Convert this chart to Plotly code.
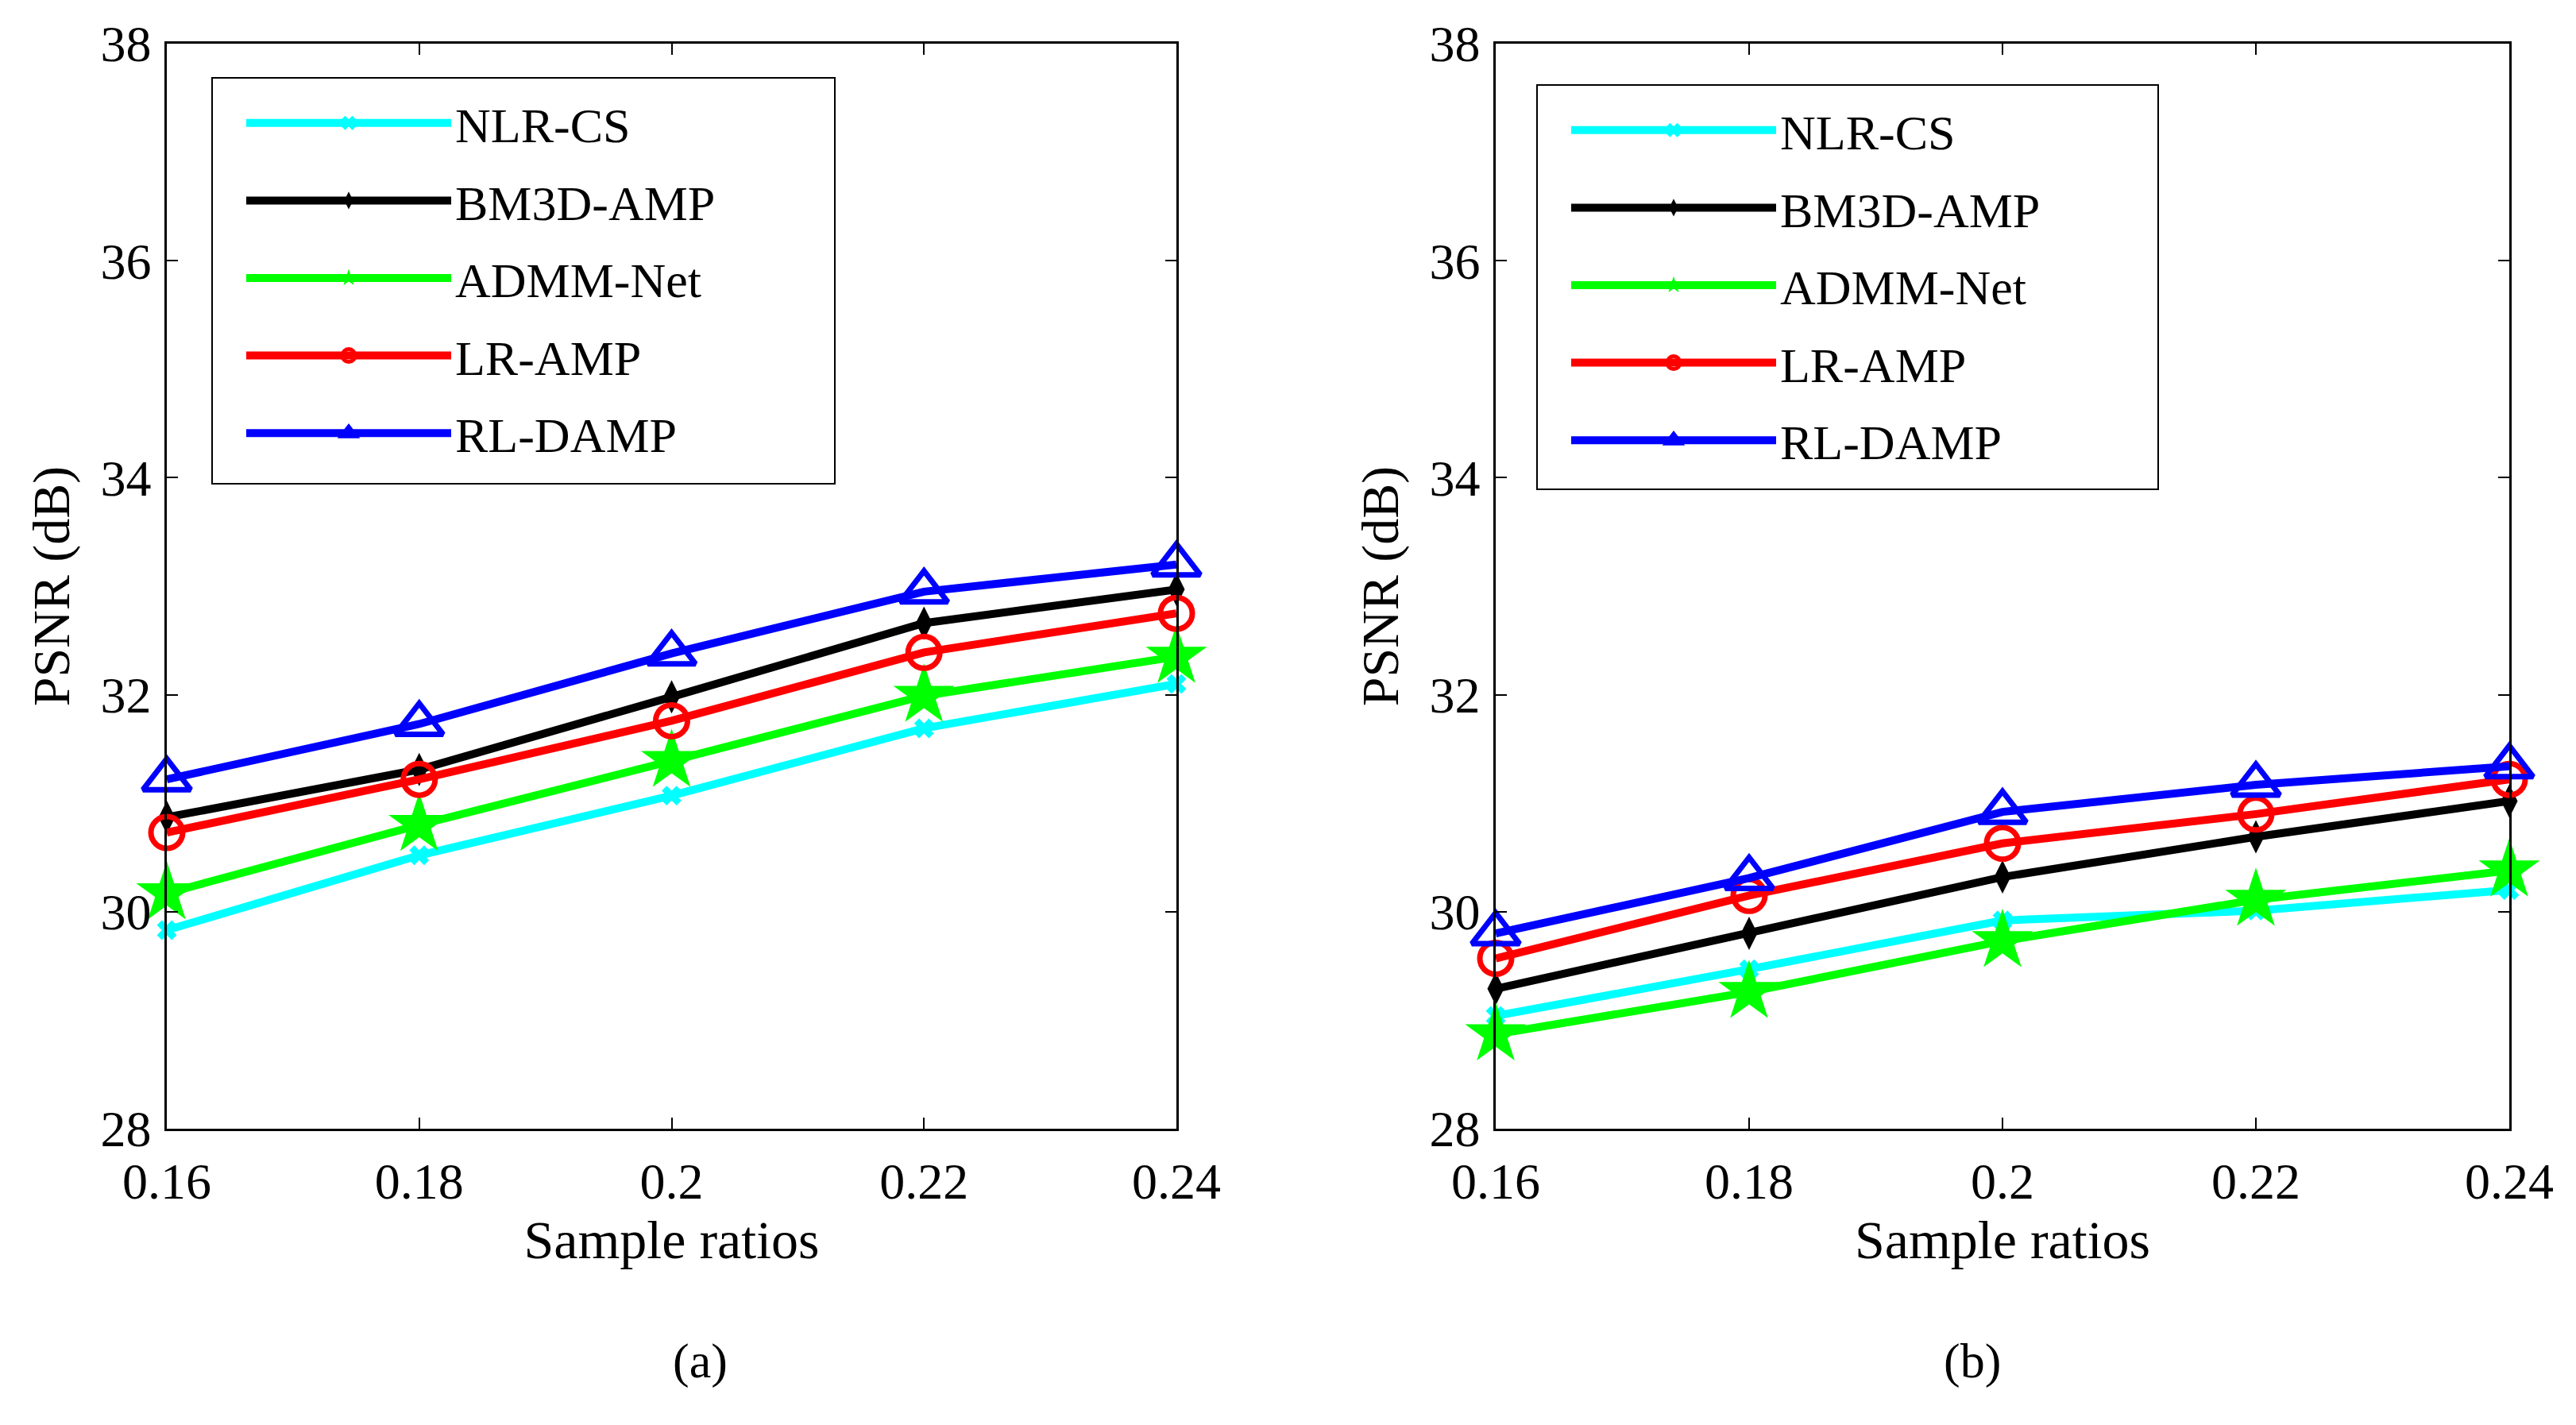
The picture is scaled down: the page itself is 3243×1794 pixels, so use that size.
import plotly.graph_objects as go

# ---------------- data ----------------
ratios = [0.16, 0.18, 0.2, 0.22, 0.24]
x_tick_labels = ["0.16", "0.18", "0.2", "0.22", "0.24"]
y_ticks = [28, 30, 32, 34, 36, 38]
methods = ["NLR-CS", "BM3D-AMP", "ADMM-Net", "LR-AMP", "RL-DAMP"]

psnr_a_nlrcs = [29.83, 30.52, 31.07, 31.69, 32.10]
psnr_a_bm3d = [30.87, 31.31, 31.98, 32.66, 32.97]
psnr_a_admm = [30.17, 30.80, 31.39, 31.99, 32.35]
psnr_a_lramp = [30.73, 31.22, 31.76, 32.39, 32.75]
psnr_a_rldamp = [31.22, 31.73, 32.38, 32.95, 33.20]

psnr_b_nlrcs = [29.04, 29.47, 29.92, 30.01, 30.20]
psnr_b_bm3d = [29.29, 29.80, 30.32, 30.69, 31.02]
psnr_b_admm = [28.87, 29.26, 29.73, 30.11, 30.38]
psnr_b_lramp = [29.57, 30.15, 30.63, 30.90, 31.22]
psnr_b_rldamp = [29.80, 30.31, 30.92, 31.17, 31.34]

# ---------------- styles ----------------
W, H = 3243, 1794
FONT = "Liberation Serif"
styles = {
    "NLR-CS": dict(color="#00FFFF", symbol="x", size=22, filled=True),
    "BM3D-AMP": dict(color="#000000", symbol="diamond-tall", size=30, filled=True),
    "ADMM-Net": dict(color="#00FF00", symbol="star", size=58, filled=True),
    "LR-AMP": dict(color="#FF0000", symbol="circle-open", size=40, filled=False),
    "RL-DAMP": dict(color="#0000FF", symbol="triangle-up-open", size=52, filled=False),
}

panels = [
    dict(x="x", y="y", legend="legend",
         data=[psnr_a_nlrcs, psnr_a_bm3d, psnr_a_admm, psnr_a_lramp, psnr_a_rldamp]),
    dict(x="x2", y="y2", legend="legend2",
         data=[psnr_b_nlrcs, psnr_b_bm3d, psnr_b_admm, psnr_b_lramp, psnr_b_rldamp]),
]

fig = go.Figure()
for p in panels:
    for name, vals in zip(methods, p["data"]):
        s = styles[name]
        marker = dict(symbol=s["symbol"], size=s["size"], color=s["color"])
        if s["filled"]:
            marker["line"] = dict(width=0)
        else:
            marker["line"] = dict(width=7, color=s["color"])
        fig.add_trace(go.Scatter(
            x=ratios, y=vals, name=name, mode="lines+markers",
            line=dict(color=s["color"], width=10),
            marker=marker, xaxis=p["x"], yaxis=p["y"],
            legend=p["legend"], legendgroup=p["legend"] + name,
            cliponaxis=False,
        ))

def px_x(v):
    return v / W

def px_y(v):
    return 1 - v / H

axis_common = dict(
    showline=True, linecolor="black", linewidth=2.5, mirror="ticks",
    ticks="inside", ticklen=14, tickwidth=1.5, tickcolor="black",
    showgrid=False, zeroline=False, automargin=False,
    tickfont=dict(family=FONT, size=64, color="black"),
)
xa = dict(axis_common, range=[0.16, 0.24], tickvals=ratios, ticktext=x_tick_labels,
          title=dict(text="Sample ratios", font=dict(family=FONT, size=68, color="black"),
                     standoff=10),
          ticklabelstandoff=8)
ya = dict(axis_common, range=[28, 38], tickvals=y_ticks,
          title=dict(text="PSNR (dB)", font=dict(family=FONT, size=66, color="black"),
                     standoff=18),
          ticklabelstandoff=4)

yd = [px_y(1421), px_y(55)]
legend_common = dict(
    bgcolor="rgba(0,0,0,0)", borderwidth=0,
    font=dict(family=FONT, size=62, color="black"),
    xanchor="left", yanchor="top", tracegroupgap=14, itemwidth=258,
)

# legend frames (decoration): [left, top, right, bottom] in pixels
legend_boxes = [(267, 98, 1051, 609), (1935, 107, 2717, 616)]
shapes = [
    dict(type="rect", xref="paper", yref="paper", layer="below",
         x0=px_x(l), x1=px_x(r), y0=px_y(b), y1=px_y(t),
         line=dict(color="black", width=2), fillcolor="white")
    for (l, t, r, b) in legend_boxes
]

fig.update_layout(
    width=W, height=H, paper_bgcolor="white", plot_bgcolor="rgba(0,0,0,0)",
    margin=dict(l=0, r=0, t=0, b=0, autoexpand=False),
    showlegend=True,
    xaxis=dict(xa, domain=[px_x(210), px_x(1481)], anchor="y"),
    yaxis=dict(ya, domain=yd, anchor="x"),
    xaxis2=dict(xa, domain=[px_x(1883), px_x(3159)], anchor="y2"),
    yaxis2=dict(ya, domain=yd, anchor="x2"),
    legend=dict(legend_common, x=px_x(305), y=px_y(108)),
    legend2=dict(legend_common, x=px_x(1973), y=px_y(117)),
    shapes=shapes,
    annotations=[
        dict(text="(a)", x=px_x(845), y=px_y(1750), xref="paper", yref="paper",
             showarrow=False, font=dict(family=FONT, size=62, color="black")),
        dict(text="(b)", x=px_x(2521), y=px_y(1750), xref="paper", yref="paper",
             showarrow=False, font=dict(family=FONT, size=62, color="black")),
    ],
)

fig.write_html("out.html")
